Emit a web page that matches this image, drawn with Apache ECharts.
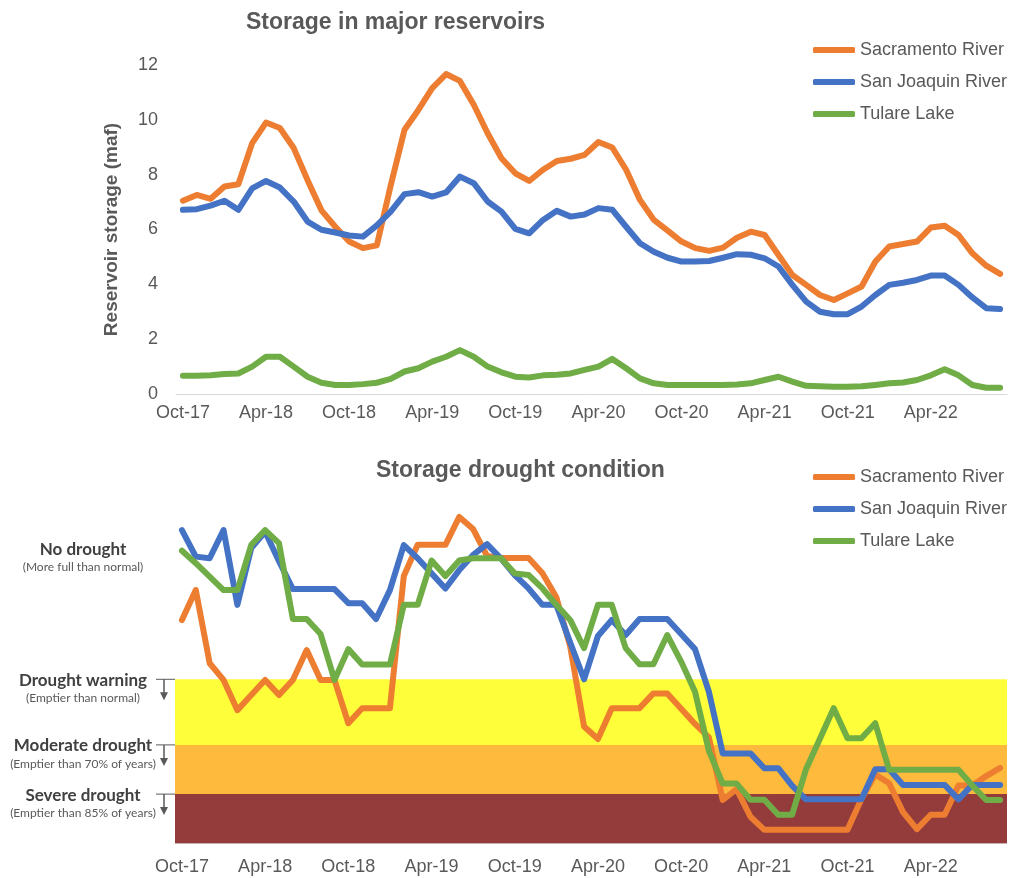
<!DOCTYPE html>
<html>
<head>
<meta charset="utf-8">
<script src="https://cdn.jsdelivr.net/npm/echarts@6/dist/echarts.min.js"></script>
<style>
  html, body { margin: 0; padding: 0; background: #fff; }
  #main { width: 1013px; height: 878px; }
</style>
</head>
<body>
<div id="main"></div>
<script>
var months = [
	'Oct-17','Nov-17','Dec-17',
	'Jan-18','Feb-18','Mar-18','Apr-18','May-18','Jun-18','Jul-18','Aug-18','Sep-18','Oct-18','Nov-18','Dec-18',
	'Jan-19','Feb-19','Mar-19','Apr-19','May-19','Jun-19','Jul-19','Aug-19','Sep-19','Oct-19','Nov-19','Dec-19',
	'Jan-20','Feb-20','Mar-20','Apr-20','May-20','Jun-20','Jul-20','Aug-20','Sep-20','Oct-20','Nov-20','Dec-20',
	'Jan-21','Feb-21','Mar-21','Apr-21','May-21','Jun-21','Jul-21','Aug-21','Sep-21','Oct-21','Nov-21','Dec-21',
	'Jan-22','Feb-22','Mar-22','Apr-22','May-22','Jun-22','Jul-22','Aug-22','Sep-22'
];
var seriesNames = ['Sacramento River', 'San Joaquin River', 'Tulare Lake'];

// storage, million acre-feet
var sacStorage = [7.05,7.26,7.12,7.57,7.65,9.15,9.9,9.7,8.97,7.8,6.7,6.1,5.56,5.32,5.42,7.6,9.64,10.36,11.16,11.67,
	11.42,10.55,9.51,8.6,8.05,7.77,8.18,8.5,8.58,8.72,9.19,8.99,8.18,7.08,6.35,5.96,5.56,5.32,5.22,5.34,
	5.7,5.92,5.8,5.07,4.34,3.98,3.61,3.43,3.67,3.92,4.83,5.38,5.47,5.56,6.07,6.14,5.8,5.13,4.68,4.38];
var sjStorage = [6.72,6.74,6.87,7.05,6.72,7.5,7.77,7.53,7.02,6.29,5.99,5.89,5.78,5.74,6.15,6.65,7.29,7.36,7.2,7.35,
	7.93,7.69,7.02,6.65,6.02,5.86,6.35,6.68,6.47,6.55,6.78,6.72,6.1,5.5,5.19,4.97,4.83,4.83,4.85,4.97,
	5.1,5.08,4.95,4.65,3.98,3.37,3.0,2.91,2.91,3.19,3.61,3.98,4.06,4.16,4.32,4.32,3.98,3.52,3.13,3.1];
var tlStorage = [0.67,0.67,0.68,0.73,0.75,1.0,1.36,1.36,1.0,0.63,0.41,0.33,0.33,0.36,0.41,0.55,0.82,0.94,1.18,1.36,
	1.6,1.36,1.0,0.79,0.63,0.6,0.68,0.7,0.75,0.88,1.0,1.28,0.94,0.57,0.39,0.33,0.33,0.33,0.33,0.33,
	0.35,0.39,0.51,0.63,0.45,0.3,0.28,0.26,0.26,0.28,0.33,0.39,0.42,0.51,0.68,0.9,0.68,0.33,0.23,0.23];

// drought condition, storage percentile
var sacCondition = [68.1,77.2,54.9,49.8,40.6,45.2,49.8,45.2,49.8,58.9,49.8,49.8,36.6,41.2,41.2,41.2,81.5,91,91,91,
	99.5,95.8,87.6,87,87,87,82.3,75,60,35.6,31.8,41.2,41.2,41.2,45.7,45.7,41,36.4,32.3,13.2,
	16.5,8.1,4.1,4.1,4.1,4.1,4.1,4.1,4.1,13.5,21,18.3,9.5,4.3,8.7,8.7,17.6,17.6,20.5,23];
var sjCondition = [95.5,87.4,86.9,95.5,72.7,90,95,86,77.5,77.5,77.5,77.5,73.2,73.2,68.4,77.2,90.9,86.9,82.3,77.7,
	83.3,87.9,91.2,86.9,81.8,77.7,72.7,72.7,61.2,50,63.2,68.1,63.5,68.4,68.4,68.4,63.8,59.2,46.2,27.4,
	27.4,27.4,22.9,22.9,17.6,13.4,13.4,13.4,13.4,13.4,22.6,22.6,17.8,17.8,17.8,17.8,13.4,17.8,17.8,17.8];
var tlCondition = [89.2,85.4,81.3,77.2,77.2,91,95.5,91.5,68.4,68.4,63.8,49.8,59.2,54.5,54.5,54.5,72.7,72.7,86.2,81.5,
	86.2,86.9,86.9,86.9,82.3,81.8,77.7,72.7,68.1,59.5,72.7,72.7,59.5,54.6,54.6,63.5,55.4,46.2,28.2,18.2,
	18.2,13.3,13.3,8.7,8.7,22.5,31.8,41.2,32,32,36.6,22.4,22.4,22.4,22.4,22.4,22.4,17.6,13.2,13.2];

// percentile limits of the drought bands: severe, moderate, warning
var bandLimits = [0, 15, 30, 50];
var levelNames = ['No drought', 'Drought warning', 'Moderate drought', 'Severe drought'];
var levelNotes = ['(More full than normal)', '(Emptier than normal)', '(Emptier than 70% of years)', '(Emptier than 85% of years)'];
var levelValues = [90, 50, 30, 15];

var lineColors = ['#ED7D31', '#4472C4', '#70AD47'];
var bandColors = ['#943C3C', '#FDBA3C', '#FEFE3A'];
var gray = '#595959';
var font = 'Liberation Sans';

function lineSeries(name, data, idx) {
	return {
		name: name,
		type: 'line',
		xAxisIndex: idx,
		yAxisIndex: idx,
		data: data,
		symbol: 'none',
		z: 3,
		lineStyle: { width: 6, cap: 'round', join: 'round' }
	};
}

function xAxisFor(idx, margin) {
	return {
		type: 'category',
		gridIndex: idx,
		data: months,
		boundaryGap: true,
		axisLine: { lineStyle: { color: '#D9D9D9', width: 1 } },
		axisTick: { interval: 5, length: 5, lineStyle: { color: '#BFBFBF' } },
		axisLabel: { interval: 5, margin: margin, color: gray, fontSize: 18, fontFamily: font },
		splitLine: { show: false }
	};
}

var bandData = [];
for (var b = 0; b < bandColors.length; b++) {
	bandData.push([
		{ yAxis: bandLimits[b], itemStyle: { color: bandColors[b], opacity: 1 } },
		{ yAxis: bandLimits[b + 1] }
	]);
}

var option = {
	animation: false,
	color: lineColors,
	textStyle: { fontFamily: font },
	title: [
		{ text: 'Storage in major reservoirs', left: 241, top: 6,
		  textStyle: { fontSize: 23, fontWeight: 'bold', color: gray, fontFamily: font } },
		{ text: 'Storage drought condition', left: 371, top: 454,
		  textStyle: { fontSize: 23, fontWeight: 'bold', color: gray, fontFamily: font } }
	],
	legend: [
		{ data: seriesNames, orient: 'vertical', left: 808, top: 36, itemWidth: 42, itemHeight: 6,
		  icon: 'roundRect', itemGap: 14, selectedMode: false,
		  textStyle: { fontSize: 18, color: gray, fontFamily: font } },
		{ data: seriesNames, orient: 'vertical', left: 808, top: 463, itemWidth: 42, itemHeight: 6,
		  icon: 'roundRect', itemGap: 14, selectedMode: false,
		  textStyle: { fontSize: 18, color: gray, fontFamily: font } }
	],
	grid: [
		{ left: 176, right: 6, top: 65, height: 329 },
		{ left: 175, right: 6, top: 515.3, height: 328 }
	],
	xAxis: [xAxisFor(0, 10), xAxisFor(1, 15)],
	yAxis: [
		{
			type: 'value', gridIndex: 0, min: 0, max: 12, interval: 2,
			name: 'Reservoir storage (maf)', nameLocation: 'middle', nameGap: 55, nameRotate: 90,
			nameTextStyle: { fontSize: 19, fontWeight: 'bold', color: gray, fontFamily: font },
			axisLine: { show: false }, axisTick: { show: false },
			axisLabel: { margin: 18, color: gray, fontSize: 18, fontFamily: font },
			splitLine: { show: false }
		},
		{ type: 'value', gridIndex: 1, min: 0, max: 100, show: false, splitLine: { show: false } }
	],
	series: [
		lineSeries(seriesNames[0], sacStorage, 0),
		lineSeries(seriesNames[1], sjStorage, 0),
		lineSeries(seriesNames[2], tlStorage, 0),
		{
			name: 'bands', type: 'line', xAxisIndex: 1, yAxisIndex: 1, data: [], z: 1,
			markArea: { silent: true, data: bandData }
		},
		lineSeries(seriesNames[0], sacCondition, 1),
		lineSeries(seriesNames[1], sjCondition, 1),
		lineSeries(seriesNames[2], tlCondition, 1)
	]
};

var chart = echarts.init(document.getElementById('main'));
chart.setOption(option);

// level labels on the left of the drought chart
var graphics = [];
for (var i = 0; i < levelNames.length; i++) {
	var y = chart.convertToPixel({ yAxisIndex: 1 }, levelValues[i]);
	graphics.push({
		type: 'text', x: 83, y: y + 1,
		style: { text: levelNames[i], fill: '#404040', font: 'bold 17px Lato', align: 'center', verticalAlign: 'middle' }
	});
	graphics.push({
		type: 'text', x: 83, y: y + 19,
		style: { text: levelNotes[i], fill: gray, font: '12px Lato', align: 'center', verticalAlign: 'middle' }
	});
	if (i > 0) {
		graphics.push({ type: 'line', shape: { x1: 156, y1: y, x2: 175, y2: y }, style: { stroke: gray, lineWidth: 1 } });
		graphics.push({ type: 'line', shape: { x1: 164, y1: y, x2: 164, y2: y + 15 }, style: { stroke: gray, lineWidth: 1.5 } });
		graphics.push({ type: 'polygon', shape: { points: [[160, y + 13], [168, y + 13], [164, y + 21]] }, style: { fill: gray } });
	}
}
chart.setOption({ graphic: graphics });
</script>
</body>
</html>
